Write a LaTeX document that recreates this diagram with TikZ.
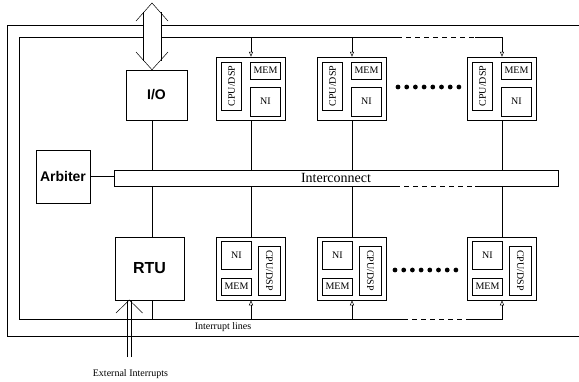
\documentclass[tikz,border=0pt]{standalone}
\usepackage{fontspec}
\setmainfont{Liberation Serif}
\setsansfont{Liberation Sans}
\usepackage{graphicx}
\usepackage{tikz}
\usetikzlibrary{arrows.meta,positioning}

\begin{document}
\begin{tikzpicture}[x=1pt,y=-1pt,line width=0.5pt,
  unit/.style={draw,inner sep=0pt,font=\sffamily\bfseries\fontsize{14}{16}\selectfont},
  pe/.style={draw,minimum width=69pt,minimum height=63pt,inner sep=0pt},
  sub/.style={draw,inner sep=0pt,font=\fontsize{10}{12}\selectfont},
  lbl/.style={inner sep=0pt,font=\fontsize{10}{12}\selectfont},
  dsh/.style={dash pattern=on 5pt off 4pt},
  irq/.style={-{Triangle[open,length=5pt,width=4pt]}}]
\useasboundingbox (0,0) rectangle (579,381);
% units
\node[unit,minimum width=61pt,minimum height=50pt] (io) at (156.5,95) {I/O};
\node[unit,minimum width=69pt,minimum height=63pt,font=\sffamily\bfseries\fontsize{16}{18}\selectfont] (rtu) at (149.5,268.5) {RTU};
\node[unit,minimum width=54pt,minimum height=53pt] (arb) at (63,176.5) {Arbiter};
\node[draw,minimum width=444pt,minimum height=16pt,inner sep=0pt,font=\fontsize{14}{16}\selectfont] (ic) at (336,178) {Interconnect};
\draw[white,line width=1pt] ([xshift=77pt]ic.north) -- ([xshift=144pt]ic.north);
\draw[dsh] ([xshift=77pt]ic.north) -- ([xshift=144pt]ic.north);
\draw[white,line width=1pt] ([xshift=59pt]ic.south) -- ([xshift=139pt]ic.south);
\draw[dsh] ([xshift=59pt]ic.south) -- ([xshift=139pt]ic.south);
% processing elements
\foreach \n/\x in {1/251,2/352,3/502}{
  \node[pe] (tpe\n) at (\x,88.5) {};
  \node[sub,minimum width=20pt,minimum height=48pt,below right=5pt and 5pt of tpe\n.north west] (tcpu\n) {\rotatebox{90}{CPU/DSP}};
  \node[sub,minimum width=30pt,minimum height=17pt,below left=5pt and 5pt of tpe\n.north east] (tmem\n) {MEM};
  \node[sub,minimum width=30pt,minimum height=29pt,above left=4pt and 5pt of tpe\n.south east] (tni\n) {NI};
  \node[pe] (bpe\n) at (\x,268.5) {};
  \node[sub,minimum width=30pt,minimum height=28pt,below right=4pt and 5pt of bpe\n.north west] (bni\n) {NI};
  \node[sub,minimum width=30pt,minimum height=17pt,above right=5pt and 5pt of bpe\n.south west] (bmem\n) {MEM};
  \node[sub,minimum width=22pt,minimum height=49pt,above left=5pt and 5pt of bpe\n.south east] (bcpu\n) {\rotatebox{-90}{CPU/DSP}};
  \draw (tpe\n.south) -- (tpe\n.south |- ic.north);
  \draw (bpe\n.north) -- (bpe\n.north |- ic.south);
}
\foreach \i in {0,...,7}{
  \fill (398+8.7*\i,87) circle (2.4pt);
  \fill (395+8.7*\i,270) circle (2.4pt);
}
% bus of I/O and RTU
\coordinate (iobus) at (152,178);
\draw (io.south -| iobus) -- (iobus |- ic.north);
\draw (iobus |- ic.south) -- (rtu.north -| iobus);
\draw (arb.east) -- (arb.east -| ic.west);
% interrupt lines
\coordinate (itl) at (19,37);
\coordinate (ibl) at (19,319);
\draw (itl) -- (ibl);
\draw (itl) -- (397,37);
\draw[dsh] (397,37) -- (475,37);
\draw[irq] (475,37) -| (tpe3.north);
\draw[irq] (tpe1.north |- itl) -- (tpe1.north);
\draw[irq] (tpe2.north |- itl) -- (tpe2.north);
\draw (ibl) -- (403,319);
\draw[dsh] (403,319) -- (470,319);
\draw[irq] (470,319) -| (bpe3.south);
\draw[irq] (bpe1.south |- ibl) -- (bpe1.south);
\draw[irq] (bpe2.south |- ibl) -- (bpe2.south);
\draw (rtu.south -| iobus) -- (iobus |- ibl);
\draw (579,25) -- (7,25) -- (7,336) -- (579,336);
\node[lbl] (intlbl) at (223,327.5) {Interrupt lines};
% wide arrow to I/O
\fill[white] (143,12) rectangle (161,61);
\draw (143,12) -- (143,61) (161,12) -- (161,61);
\draw (136,21) -- (152,3) -- (168,21);
\draw (136,52) -- (io.north -| iobus) -- (168,52);
% external interrupts
\coordinate (extl) at (127.1,357);
\coordinate (extr) at (131.5,357);
\coordinate (exttip) at (129.3,300);
\draw (extl) -- (extl |- rtu.south);
\draw (extr) -- (extr |- rtu.south);
\draw ([shift={(-13.3,13)}]exttip) -- (exttip) -- ([shift={(13.3,13)}]exttip);
\node[lbl] (extlbl) at (130.5,374) {External Interrupts};
\end{tikzpicture}
\end{document}
